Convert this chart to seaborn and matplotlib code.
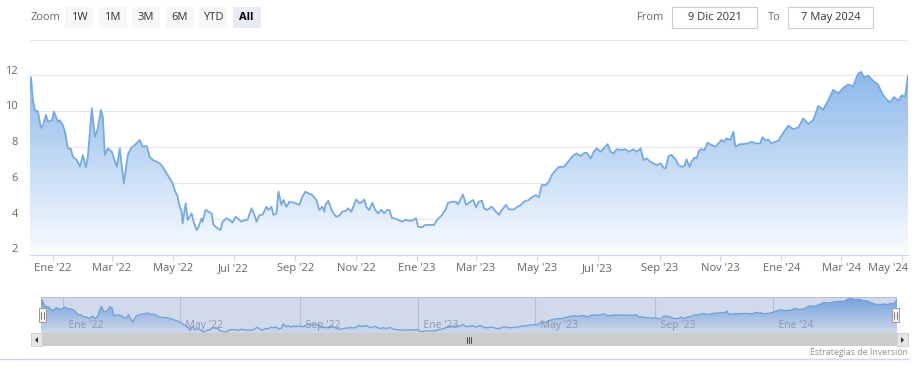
import numpy as np
import pandas as pd
import matplotlib
matplotlib.use('Agg')
import matplotlib.pyplot as plt
import matplotlib.dates as mdates
import matplotlib.transforms as mtransforms
from matplotlib.patches import Rectangle, PathPatch, Polygon
import seaborn as sns

# ---------------- data ----------------
start_date = '2021-12-09'
end_date = '2024-05-07'
day_offsets = [
    0, 1, 3, 5, 8, 11, 13, 16, 18, 22, 24, 28, 30, 33, 35, 38, 41, 43, 47, 50,
    53, 56, 58, 62, 65, 68, 71, 73, 75, 78, 82, 87, 90, 94, 98, 101, 105, 110, 113, 117,
    120, 123, 127, 130, 133, 138, 140, 143, 145, 148, 150, 152, 153, 156, 158, 162, 164, 167, 169, 172,
    173, 176, 179, 182, 184, 188, 191, 193, 197, 200, 203, 206, 208, 212, 215, 218, 222, 225, 227, 230,
    233, 237, 239, 242, 244, 247, 249, 252, 254, 257, 260, 265, 270, 273, 276, 279, 283, 287, 290, 293,
    295, 296, 299, 303, 307, 310, 313, 317, 319, 322, 324, 327, 330, 333, 335, 337, 340, 343, 346, 349,
    352, 355, 358, 360, 363, 366, 369, 373, 376, 380, 383, 387, 389, 393, 396, 400, 405, 408, 413, 417,
    419, 423, 427, 429, 434, 437, 440, 444, 445, 447, 450, 453, 455, 458, 463, 466, 470, 473, 477, 480,
    485, 488, 492, 495, 500, 503, 507, 510, 513, 517, 520, 523, 527, 530, 535, 538, 542, 545, 548, 552,
    555, 558, 562, 565, 568, 572, 575, 579, 582, 585, 588, 593, 597, 600, 602, 605, 608, 612, 615, 618,
    622, 625, 628, 632, 635, 637, 640, 643, 647, 650, 653, 656, 658, 661, 663, 666, 668, 671, 673, 676,
    679, 683, 687, 690, 693, 696, 698, 702, 705, 707, 711, 715, 720, 723, 727, 732, 734, 738, 740, 743,
    747, 750, 755, 760, 765, 770, 775, 780, 785, 790, 795, 800, 805, 810, 815, 820, 825, 830, 833, 836,
    840, 845, 850, 854, 858, 862, 866, 870, 874, 877, 880,
]
prices = [
    11.3, 11.9, 10.6, 10.07, 9.98, 9.07, 9.23, 9.8, 9.42, 9.5, 9.98, 9.42, 9.5, 9.23, 8.86, 7.93, 7.9, 7.46, 7.28, 6.9,
    7.56, 6.87, 7.46, 10.17, 8.58, 9.05, 10.07, 9.7, 7.56, 7.93, 7.74, 6.9, 7.93, 5.98, 7.56, 7.93, 8.12, 8.4, 8.02, 8.06,
    7.46, 7.28, 7.18, 7.09, 6.9, 6.44, 6.26, 5.98, 5.6, 5.23, 4.67, 4.39, 3.74, 4.86, 3.93, 4.3, 3.83, 3.37, 3.55, 4.02,
    3.83, 4.49, 4.39, 4.3, 3.65, 3.46, 3.37, 3.83, 4.02, 3.93, 3.78, 4.11, 4.02, 3.83, 3.93, 3.93, 4.58, 4.21, 3.83, 4.21,
    4.21, 4.67, 4.49, 4.67, 4.21, 4.3, 5.51, 4.77, 5.05, 4.67, 4.95, 4.89, 4.77, 5.23, 5.51, 5.42, 5.32, 5.05, 4.49, 4.67,
    4.39, 4.77, 5.0, 4.39, 4.11, 4.17, 4.39, 4.45, 4.58, 4.39, 4.67, 5.08, 4.86, 4.95, 5.08, 4.67, 4.49, 4.89, 4.49, 4.3,
    4.49, 4.3, 4.49, 4.49, 4.02, 4.02, 3.93, 3.83, 3.93, 3.89, 3.89, 4.02, 3.55, 3.52, 3.65, 3.65, 3.65, 3.93, 4.21, 4.58,
    4.89, 4.95, 4.95, 4.8, 5.36, 4.77, 4.89, 5.05, 4.95, 4.64, 4.95, 5.0, 4.58, 4.49, 4.67, 4.45, 4.21, 4.49, 4.77, 4.52,
    4.52, 4.64, 4.77, 4.95, 5.05, 5.2, 5.32, 5.2, 5.88, 5.88, 6.07, 6.44, 6.72, 6.9, 6.9, 7.09, 7.37, 7.56, 7.65, 7.5,
    7.65, 7.69, 7.37, 7.74, 7.93, 7.74, 7.93, 8.17, 7.74, 7.65, 7.88, 7.84, 7.88, 7.74, 7.8, 7.88, 7.74, 7.93, 7.28, 7.37,
    7.18, 7.09, 7.0, 7.09, 6.85, 6.81, 7.5, 7.56, 7.32, 7.0, 6.9, 6.94, 7.32, 6.9, 7.18, 7.42, 7.37, 7.84, 7.88, 7.84,
    8.25, 8.12, 8.02, 8.21, 8.4, 8.3, 8.49, 8.4, 8.86, 8.02, 8.16, 8.17, 8.21, 8.3, 8.21, 8.21, 8.55, 8.36, 8.43, 8.21,
    8.3, 8.36, 8.8, 9.2, 9.0, 9.1, 9.6, 9.3, 9.5, 10.3, 10.1, 10.6, 11.2, 11.0, 11.3, 11.5, 11.4, 12.1, 12.2, 11.9,
    12.0, 11.7, 11.5, 11.0, 10.7, 10.5, 10.8, 10.6, 10.9, 10.8, 12.0,
]
y_ticks = [2, 4, 6, 8, 10, 12]
y_grid = [4, 6, 8, 10, 12, 14]
x_tick_dates = ['2022-01-01', '2022-03-01', '2022-05-01', '2022-07-01', '2022-09-01',
                '2022-11-01', '2023-01-01', '2023-03-01', '2023-05-01', '2023-07-01',
                '2023-09-01', '2023-11-01', '2024-01-01', '2024-03-01', '2024-05-01']
x_tick_labels = ["Ene '22", "Mar '22", "May '22", "Jul '22", "Sep '22", "Nov '22",
                 "Ene '23", "Mar '23", "May '23", "Jul '23", "Sep '23", "Nov '23",
                 "Ene '24", "Mar '24", "May '24"]
nav_tick_dates = ['2022-01-01', '2022-05-01', '2022-09-01', '2023-01-01',
                  '2023-05-01', '2023-09-01', '2024-01-01']
nav_tick_labels = ["Ene '22", "May '22", "Sep '22", "Ene '23", "May '23", "Sep '23", "Ene '24"]
zoom_buttons = ['1W', '1M', '3M', '6M', 'YTD', 'All']
from_text = '9 Dic 2021'
to_text = '7 May 2024'
credits_text = 'Estrategias de Inversión'

# ---------------- style ----------------
sns.set_theme(style='white')
plt.rcParams['font.family'] = ['Open Sans', 'DejaVu Sans']

W, H = 917, 377
fig = plt.figure(figsize=(W / 100, H / 100), dpi=100)
fig.patch.set_facecolor('white')


def fx(px):
    return px / W


def fy(py):
    return 1 - py / H


LINE = '#78aade'
TOP_RGB = np.array([120, 172, 230]) / 255
BOT_RGB = np.array([250, 252, 255]) / 255

dates = pd.to_datetime(start_date) + pd.to_timedelta(day_offsets, unit='D')
df = pd.DataFrame({'date': dates, 'price': prices})
x0 = mdates.date2num(pd.to_datetime(start_date))
x1 = mdates.date2num(pd.to_datetime(end_date))


def gradient_fill(ax, xs, ys, ybot, ytop, zorder=1):
    poly = ax.fill_between(xs, ys, ybot, color='none', lw=0)
    path = poly.get_paths()[0]
    patch = PathPatch(path, transform=ax.transData, fc='none', ec='none')
    ax.add_patch(patch)
    n = 256
    t = np.linspace(0, 1, n)[:, None]
    grad = TOP_RGB[None, :] * (1 - t) + BOT_RGB[None, :] * t
    grad = np.repeat(grad[:, None, :], 2, axis=1)
    im = ax.imshow(grad, extent=[x0, x1, ybot, ytop], origin='upper',
                   aspect='auto', zorder=zorder, interpolation='bilinear')
    im.set_clip_path(patch)


# ---------------- main chart ----------------
ax = fig.add_axes([fx(30), fy(254.5), fx(908) - fx(30), fy(39.7) - fy(254.5)])
ax.set_facecolor('white')
xs = mdates.date2num(df['date'])
gradient_fill(ax, xs, df['price'].values, 2, 14, zorder=1)
for g in y_grid:
    ax.axhline(g, color='#e6e6e6', lw=0.8, zorder=0.5)
sns.lineplot(data=df, x='date', y='price', ax=ax, color=LINE, lw=1.3, zorder=3)
ax.set_xlim(pd.to_datetime(start_date), pd.to_datetime(end_date))
ax.set_ylim(2, 14)
for s in ['top', 'right', 'left']:
    ax.spines[s].set_visible(False)
ax.spines['bottom'].set_color('#ccd6eb')
ax.spines['bottom'].set_linewidth(0.9)
ax.set_xlabel('')
ax.set_ylabel('')
ax.set_yticks([])
ax.set_xticks(pd.to_datetime(x_tick_dates))
ax.set_xticklabels(x_tick_labels)
ax.tick_params(axis='x', length=4.2, width=0.8, color='#ccd6eb', pad=1.8,
               labelsize=8, labelcolor='#666666', bottom=True)
last = ax.get_xticklabels()[-1]
last.set_horizontalalignment('right')
last.set_transform(last.get_transform() +
                   mtransforms.ScaledTranslation(6 / 100, 0, fig.dpi_scale_trans))

ytrans = mtransforms.blended_transform_factory(fig.transFigure, ax.transData)
ytrans = ytrans + mtransforms.ScaledTranslation(0, 4.5 / 100, fig.dpi_scale_trans)
for v in y_ticks:
    fig.text(fx(18), v, str(v), transform=ytrans, ha='right', va='center',
             fontsize=8, color='#666666')

# ---------------- range selector ----------------
fig.text(fx(31), fy(17.5), 'Zoom', ha='left', va='center', fontsize=8, color='#666666')
for i, lab in enumerate(zoom_buttons):
    bx = 65 + i * 33.5
    sel = (lab == 'All')
    fig.patches.append(Rectangle((fx(bx), fy(27.5)), fx(28), fy(7) - fy(27.5),
                                 transform=fig.transFigure,
                                 fc='#e6ebf5' if sel else '#f7f7f7', ec='none'))
    fig.text(fx(bx + 14), fy(17.5), lab, ha='center', va='center', fontsize=8,
             color='#000000' if sel else '#333333',
             fontweight='bold' if sel else 'normal')

fig.text(fx(651), fy(17.5), 'From', ha='center', va='center', fontsize=8, color='#666666')
fig.text(fx(774), fy(17.5), 'To', ha='center', va='center', fontsize=8, color='#666666')
for bx0, txt in [(672, from_text), (788, to_text)]:
    fig.patches.append(Rectangle((fx(bx0), fy(27.5)), fx(85), fy(7.5) - fy(27.5),
                                 transform=fig.transFigure, fc='white',
                                 ec='#cccccc', lw=0.8))
    fig.text(fx(bx0 + 42.5), fy(17.5), txt, ha='center', va='center',
             fontsize=8, color='#333333')

# ---------------- navigator ----------------
nav = fig.add_axes([fx(41), fy(333), fx(897) - fx(41), fy(297) - fy(333)])
nav.set_facecolor('white')
nav_lo, nav_hi = 3.1, 12.6
for d in nav_tick_dates:
    nav.axvline(pd.to_datetime(d), color='#d8d8d8', lw=0.8, zorder=0.5)
gradient_fill(nav, xs, df['price'].values, nav_lo, nav_hi, zorder=1)
sns.lineplot(data=df, x='date', y='price', ax=nav, color=LINE, lw=0.9, zorder=3)
nav.set_xlim(pd.to_datetime(start_date), pd.to_datetime(end_date))
nav.set_ylim(nav_lo, nav_hi)
nav.set_xticks([])
nav.set_yticks([])
nav.set_xlabel('')
nav.set_ylabel('')
for s in nav.spines.values():
    s.set_visible(False)
nav.add_patch(Rectangle((0, 0), 1, 1, transform=nav.transAxes,
                        fc=(102 / 255, 133 / 255, 194 / 255), alpha=0.3, ec='none', zorder=5))
nav.axhline(nav_hi, color='#b8c0d0', lw=0.8, zorder=6)
ntrans = mtransforms.blended_transform_factory(nav.transData, fig.transFigure)
for d, lab in zip(nav_tick_dates, nav_tick_labels):
    nav.text(pd.to_datetime(d), fy(325.5), '  ' + lab, transform=ntrans, ha='left',
             va='center', fontsize=7.5, color='#8f98a8', zorder=7)

# handles
for hx in [42.5, 895.5]:
    fig.patches.append(Rectangle((fx(hx - 3.5), fy(322)), fx(7), fy(308) - fy(322),
                                 transform=fig.transFigure, fc='#f2f2f2',
                                 ec='#999999', lw=0.7, zorder=10))
    for dx in (-1.2, 1.2):
        fig.lines.append(plt.Line2D([fx(hx + dx), fx(hx + dx)], [fy(311.5), fy(318.5)],
                                    transform=fig.transFigure, color='#666666', lw=0.6,
                                    zorder=11))

# scrollbar
fig.patches.append(Rectangle((fx(31), fy(346)), fx(877), fy(333) - fy(346),
                             transform=fig.transFigure, fc='#f2f2f2', ec='none'))
fig.patches.append(Rectangle((fx(41.5), fy(346)), fx(855.5), fy(333) - fy(346),
                             transform=fig.transFigure, fc='#cccccc', ec='none'))
for bx0 in (31, 897):
    fig.patches.append(Rectangle((fx(bx0), fy(346)), fx(11), fy(333) - fy(346),
                                 transform=fig.transFigure, fc='#e6e6e6',
                                 ec='#cccccc', lw=0.6))
fig.patches.append(Polygon([(fx(38), fy(337)), (fx(38), fy(343)), (fx(35), fy(340))],
                           closed=True, transform=fig.transFigure, fc='#333333', ec='none'))
fig.patches.append(Polygon([(fx(901), fy(337)), (fx(901), fy(343)), (fx(904), fy(340))],
                           closed=True, transform=fig.transFigure, fc='#333333', ec='none'))
for dx in (-2, 0, 2):
    fig.lines.append(plt.Line2D([fx(469 + dx), fx(469 + dx)], [fy(337), fy(343)],
                                transform=fig.transFigure, color='#333333', lw=0.6))

# credits & bottom rule
fig.text(fx(908), fy(352.5), credits_text, ha='right', va='center', fontsize=6.3,
         color='#909090')
fig.lines.append(plt.Line2D([0, fx(908)], [fy(358.5), fy(358.5)],
                            transform=fig.transFigure, color='#cfd6e4', lw=1.0))

fig.savefig('out.png', dpi=100, facecolor='white')
